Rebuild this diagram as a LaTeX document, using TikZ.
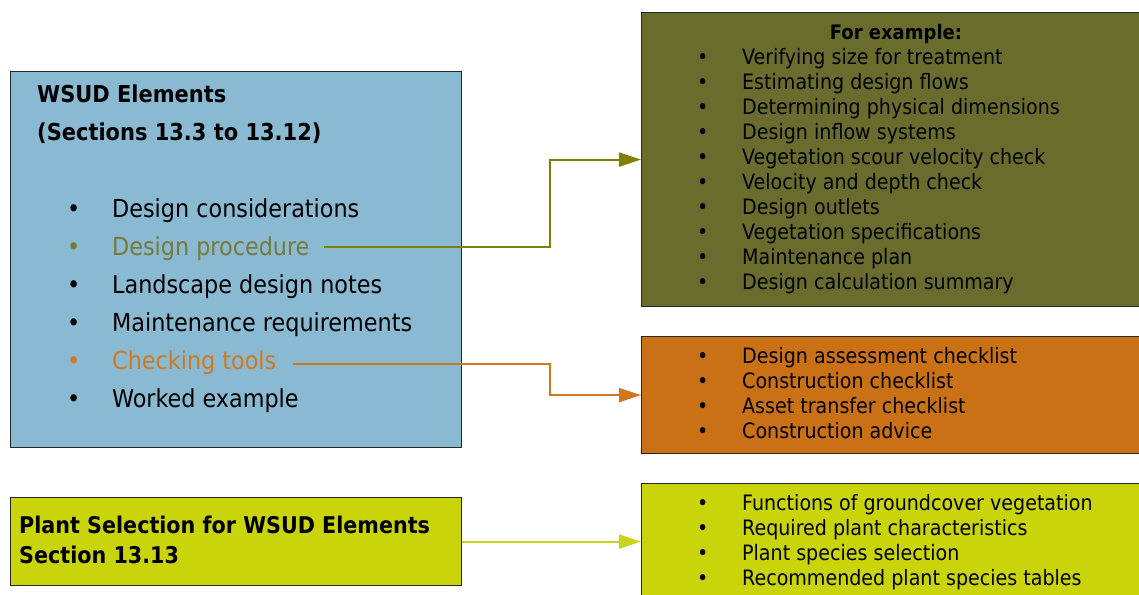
\documentclass[tikz,border=0pt]{standalone}
\usepackage{fontspec}
\setmainfont{DejaVu Sans Condensed}
\usetikzlibrary{arrows.meta,positioning}

\definecolor{wsudblue}{HTML}{8AB9D2}
\definecolor{procolive}{HTML}{6A6C2E}
\definecolor{checkorange}{HTML}{C97114}
\definecolor{plantyellow}{HTML}{C9D40B}
\definecolor{oliveline}{HTML}{808000}
\definecolor{olivetext}{HTML}{77793A}
\definecolor{orangeline}{HTML}{D07820}
\definecolor{yellowline}{HTML}{C8D41E}

\newcommand{\bul}{\makebox[40pt][l]{\hspace{-5pt}\textbullet}}

\begin{document}
\begin{tikzpicture}[x=1pt,y=-1pt,
    box/.style={draw=black!85, line width=1.2pt, anchor=north west, inner sep=0pt},
    head/.style={anchor=base west, inner sep=0pt, font=\fontsize{23.3}{28}\selectfont\bfseries},
    item/.style={anchor=base west, inner sep=0pt, font=\fontsize{24.8}{28}\selectfont},
    list/.style={anchor=north west, inner sep=0pt, align=left, font=\fontsize{21.2}{25}\selectfont},
    link/.style={line width=2.2pt, -{Triangle[length=22pt,width=14pt]}}]

\useasboundingbox (0,0) rectangle (1139,594);

% boxes
\node[box, fill=wsudblue, minimum width=451pt, minimum height=376pt] (wsud) at (10,71) {};
\node[box, fill=procolive, minimum width=500pt, minimum height=294pt] (example) at (641,12) {};
\node[box, fill=checkorange, minimum width=500pt, minimum height=117pt] (checks) at (641,336) {};
\node[box, fill=plantyellow, minimum width=500pt, minimum height=116pt] (plants) at (641,483) {};
\node[box, fill=plantyellow, minimum width=451pt, minimum height=88pt] (select) at (10,497) {};

% WSUD elements
\node[head] (title) at (37,102) {WSUD Elements};
\node[head] (sections) at (37,140) {(Sections 13.3 to 13.12)};
\node[item] (consid) at (72,217) {\bul Design considerations};
\node[item, text=olivetext] (proc) at (72,255) {\bul Design procedure};
\node[item] (landsc) at (72,293) {\bul Landscape design notes};
\node[item] (maint) at (72,331) {\bul Maintenance requirements};
\node[item, text=orangeline] (check) at (72,369) {\bul Checking tools};
\node[item] (worked) at (72,407) {\bul Worked example};

% right hand lists
\node[anchor=base, inner sep=0pt, font=\fontsize{20}{25}\selectfont\bfseries] (forex) at (896,40) {For example:};
\node[list] (steps) at (702,48) {\bul Verifying size for treatment\\
\bul Estimating design flows\\
\bul Determining physical dimensions\\
\bul Design inflow systems\\
\bul Vegetation scour velocity check\\
\bul Velocity and depth check\\
\bul Design outlets\\
\bul Vegetation specifications\\
\bul Maintenance plan\\
\bul Design calculation summary};
\node[list] (checklist) at (702,347) {\bul Design assessment checklist\\
\bul Construction checklist\\
\bul Asset transfer checklist\\
\bul Construction advice};
\node[list] (plantlist) at (702,494) {\bul Functions of groundcover vegetation\\
\bul Required plant characteristics\\
\bul Plant species selection\\
\bul Recommended plant species tables};

% plant selection
\node[anchor=west, inner sep=0pt, align=left, font=\fontsize{23}{30}\selectfont\bfseries] (plantsel) at (19,540) {Plant Selection for WSUD Elements\\Section 13.13};

% connectors
\coordinate (bend) at (550,0);
\draw[link, draw=oliveline] ([xshift=14pt,yshift=8pt]proc.base east) -- ([yshift=8pt]proc.base east -| bend) |- (example.west);
\draw[link, draw=orangeline] ([xshift=16pt,yshift=5pt]check.base east) -- ([yshift=5pt]check.base east -| bend) |- (checks.west);
\draw[link, draw=yellowline] (select.east) -- (plants.west);

\end{tikzpicture}
\end{document}
